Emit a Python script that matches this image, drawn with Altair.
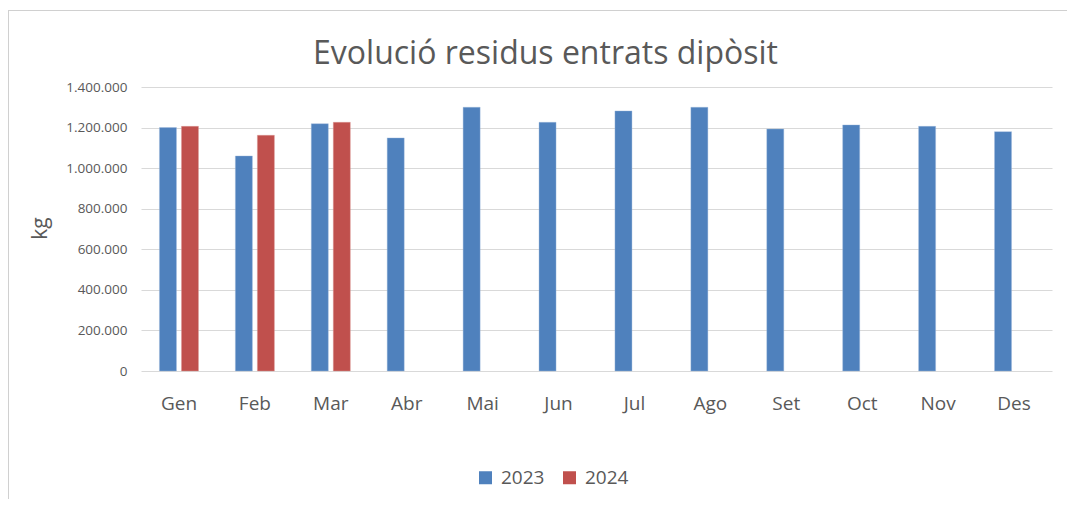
import altair as alt
import pandas as pd

months = ["Gen", "Feb", "Mar", "Abr", "Mai", "Jun", "Jul", "Ago", "Set", "Oct", "Nov", "Des"]
years = ["2023", "2024"]
values_2023 = [1200000, 1060000, 1219000, 1149000, 1300000, 1226000,
               1282000, 1300000, 1193000, 1213000, 1206000, 1180000]
values_2024 = [1206000, 1162000, 1226000]
y_ticks = [0, 200000, 400000, 600000, 800000, 1000000, 1200000, 1400000]
colors = ["#4F81BD", "#C0504D"]

rows = []
for m, v in zip(months, values_2023):
    rows.append({"mes": m, "any": "2023", "kg": v})
for m, v in zip(months, values_2024):
    rows.append({"mes": m, "any": "2024", "kg": v})
df = pd.DataFrame(rows)

FONT = "Open Sans"
GREY = "#595959"
W, H = 911, 284

bars = alt.Chart(df).mark_bar(strokeWidth=0.8, strokeOpacity=0.5).encode(
    x=alt.X("mes:N", sort=months,
            scale=alt.Scale(paddingInner=0.486, paddingOuter=0.243),
            axis=alt.Axis(title=None, labelAngle=0, labelFontSize=19, labelColor=GREY,
                          labelPadding=23, ticks=False, domain=False, grid=False,
                          labelFont=FONT)),
    xOffset=alt.XOffset("any:N", sort=years,
                        scale=alt.Scale(domain=years, paddingInner=0.227, paddingOuter=0)),
    y=alt.Y("kg:Q",
            scale=alt.Scale(domain=[0, 1400000], nice=False),
            axis=alt.Axis(title="kg", values=y_ticks,
                          labelExpr="replace(format(datum.value, ','), /,/g, '.')",
                          labelFontSize=13.5, labelColor=GREY, labelFont=FONT,
                          labelPadding=14, ticks=False, domain=False,
                          gridColor="#D9D9D9", gridWidth=1.2,
                          titleFontSize=21, titleFontWeight="normal", titleColor=GREY,
                          titleFont=FONT, titleAngle=-90, titleX=-101, titleY=141,
                          titleAlign="center", titleBaseline="middle")),
    color=alt.Color("any:N", sort=years,
                    scale=alt.Scale(domain=years, range=colors),
                    legend=alt.Legend(title=None, orient="none", direction="horizontal",
                                      legendX=335, legendY=381,
                                      symbolType="square", symbolSize=169,
                                      symbolStrokeWidth=0, labelFontSize=19,
                                      labelColor=GREY, labelFont=FONT,
                                      labelOffset=6, columnPadding=15)),
    stroke=alt.Stroke("any:N", sort=years,
                      scale=alt.Scale(domain=years, range=["#9DB8DC", "#DD9A98"]),
                      legend=None),
)

frame_df = pd.DataFrame({"k": [0]})
top_edge = alt.Chart(frame_df).mark_rule(stroke="#D0D0D0", strokeWidth=1).encode(
    x=alt.value(-133), x2=alt.value(W + 40), y=alt.value(-76.5),
)
left_edge = alt.Chart(frame_df).mark_rule(stroke="#D0D0D0", strokeWidth=1).encode(
    x=alt.value(-132.5), y=alt.value(-77), y2=alt.value(H + 150),
)

chart = alt.layer(top_edge, left_edge, bars).properties(
    width=W, height=H,
    title=alt.Title("Evolució residus entrats dipòsit", fontSize=32, font=FONT,
                    fontWeight="normal", color=GREY, anchor="middle", frame="group",
                    dx=-51, dy=75, offset=14),
    autosize=alt.AutoSizeParams(type="none"),
    padding={"left": 133, "top": 79, "right": 15, "bottom": 128},
).configure_view(stroke=None)

chart.save("out.html", embed_options={"renderer": "svg", "actions": False})
